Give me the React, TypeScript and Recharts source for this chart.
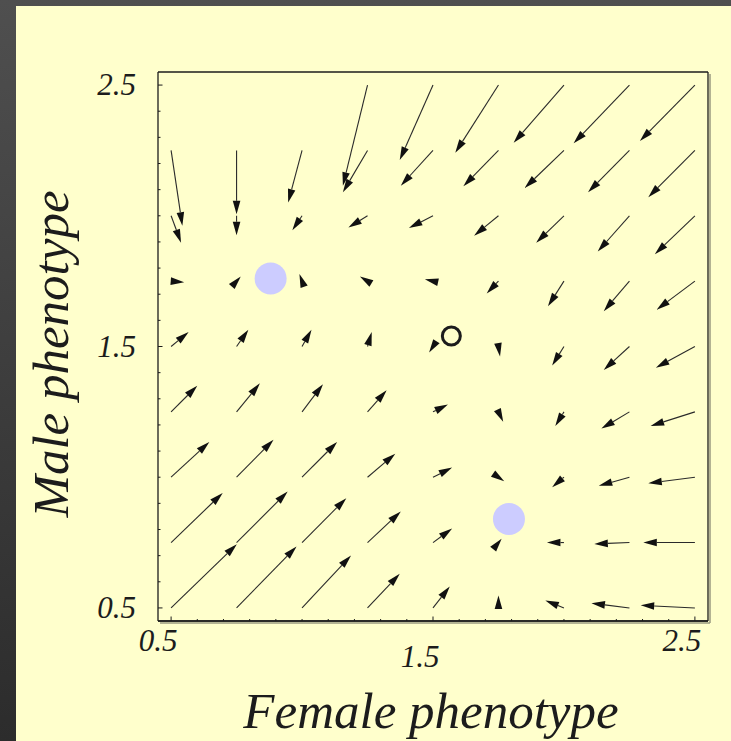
import React from 'react';
import { ScatterChart, Scatter, XAxis, YAxis, ReferenceLine } from 'recharts';

// grid of the vector field (arrow tails)
const gridX = [0.5, 0.75, 1, 1.25, 1.5, 1.75, 2, 2.25, 2.5];
const gridY = [2.5, 2.25, 2, 1.75, 1.5, 1.25, 1, 0.75, 0.5];

// female (x) component of each arrow, rows from top (2.5) to bottom (0.5); null = no arrow
const uRows: (number | null)[][] = [
  [null, null, null, -0.094, -0.127, -0.165, -0.192, -0.213, -0.21],
  [0.043, 0, -0.053, -0.094, -0.123, -0.134, -0.15, -0.158, -0.178],
  [0.038, 0, -0.037, -0.073, -0.092, -0.093, -0.106, -0.121, -0.153],
  [0.05, 0.016, -0.01, -0.029, -0.031, -0.045, -0.061, -0.098, -0.146],
  [0.067, 0.045, 0.036, 0.016, -0.015, 0.006, -0.045, -0.098, -0.149],
  [0.1, 0.089, 0.08, 0.073, 0.057, 0.018, -0.033, -0.107, -0.169],
  [0.146, 0.141, 0.134, 0.106, 0.073, 0.022, -0.045, -0.117, -0.178],
  [0.197, 0.195, 0.169, 0.127, 0.073, 0.012, -0.065, -0.134, -0.197],
  [0.251, 0.229, 0.187, 0.123, 0.064, 0, -0.071, -0.145, -0.207],
];

// male (y) component of each arrow, same layout
const vRows: (number | null)[][] = [
  [null, null, null, -0.385, -0.287, -0.259, -0.221, -0.223, -0.214],
  [-0.288, -0.244, -0.199, -0.16, -0.135, -0.137, -0.144, -0.16, -0.179],
  [-0.103, -0.074, -0.055, -0.045, -0.047, -0.076, -0.103, -0.137, -0.147],
  [-0.004, 0.018, 0.027, 0.018, 0.007, -0.047, -0.096, -0.115, -0.109],
  [0.055, 0.064, 0.064, 0.055, -0.023, -0.038, -0.073, -0.09, -0.081],
  [0.1, 0.109, 0.106, 0.083, 0.028, -0.038, -0.054, -0.064, -0.054],
  [0.135, 0.143, 0.135, 0.09, 0.037, -0.015, -0.038, -0.033, -0.023],
  [0.19, 0.195, 0.17, 0.119, 0.054, 0.015, 0, -0.005, 0],
  [0.244, 0.235, 0.201, 0.131, 0.082, 0.048, 0.028, 0.018, 0.01],
];

const stablePoints = [
  { x: 0.88, y: 1.76 },
  { x: 1.79, y: 0.84 },
];
const unstablePoints = [{ x: 1.57, y: 1.54 }];

const axisTicks = [
  0.5, 0.6, 0.7, 0.8, 0.9, 1.0, 1.1, 1.2, 1.3, 1.4, 1.5,
  1.6, 1.7, 1.8, 1.9, 2.0, 2.1, 2.2, 2.3, 2.4, 2.5,
];
const labelledTicks = [0.5, 1.5, 2.5];

const FONT = '"Liberation Serif", "Times New Roman", serif';
const INK = '#1c1c1c';
const HEAD_LEN = 13.5;
const HEAD_HALF = 3.8;

function Arrow(props: any) {
  const { x1, y1, x2, y2 } = props;
  const dx = x2 - x1;
  const dy = y2 - y1;
  const len = Math.hypot(dx, dy);
  if (!len) return null;
  const ux = dx / len;
  const uy = dy / len;
  const bx = x2 - ux * HEAD_LEN;
  const by = y2 - uy * HEAD_LEN;
  const px = -uy * HEAD_HALF;
  const py = ux * HEAD_HALF;
  return (
    <g>
      {len > HEAD_LEN && <line x1={x1} y1={y1} x2={bx} y2={by} stroke="#2a2a2a" strokeWidth={1.1} />}
      <polygon points={`${x2},${y2} ${bx + px},${by + py} ${bx - px},${by - py}`} fill="#111" />
    </g>
  );
}

function EdgeWithShadow(props: any) {
  const { x1, y1, x2, y2 } = props;
  return (
    <g>
      <line x1={x1 + 2} y1={y1 + 2} x2={x2 + 2} y2={y2 + 2} stroke="#9a9a80" strokeWidth={1.5} />
      <line x1={x1} y1={y1} x2={x2} y2={y2} stroke={INK} strokeWidth={1.3} />
    </g>
  );
}

function Edge(props: any) {
  const { x1, y1, x2, y2 } = props;
  return <line x1={x1} y1={y1} x2={x2} y2={y2} stroke={INK} strokeWidth={1.3} />;
}

function XTick({ x, y, payload }: any) {
  const v = payload.value;
  const major = labelledTicks.includes(v);
  return (
    <g>
      <line x1={x} y1={y} x2={x} y2={y - (major ? 4.5 : 2)} stroke={INK} />
      {major && (
        <text x={x - 13} y={y + (v === 1.5 ? 46 : 30)} textAnchor="middle" fontFamily={FONT} fontStyle="italic" fontSize={31} fill={INK}>
          {v.toFixed(1)}
        </text>
      )}
    </g>
  );
}

function YTick({ x, y, payload }: any) {
  const v = payload.value;
  const major = labelledTicks.includes(v);
  return (
    <g>
      <line x1={x} y1={y} x2={x + (major ? 4.5 : 2.5)} y2={y} stroke={INK} />
      {major && (
        <text x={x - 22} y={y + 10} textAnchor="end" fontFamily={FONT} fontStyle="italic" fontSize={31} fill={INK}>
          {v.toFixed(1)}
        </text>
      )}
    </g>
  );
}

export default function App() {
  const arrows: { x: number; y: number; u: number; v: number }[] = [];
  gridY.forEach((yv, r) => {
    gridX.forEach((xv, c) => {
      const u = uRows[r][c];
      const v = vRows[r][c];
      if (u === null || v === null) return;
      arrows.push({ x: xv, y: yv, u, v });
    });
  });

  return (
    <div style={{ position: 'absolute', left: 0, top: 0, width: 731, height: 741, background: 'linear-gradient(to bottom, #4f4f4f, #2c2c2c)', overflow: 'hidden' }}>
      <div style={{ position: 'absolute', left: 16, top: 6, right: 0, bottom: 0, background: '#FFFFCC' }} />
      <div style={{ position: 'absolute', left: 0, top: 0 }}>
        <ScatterChart width={731} height={741} margin={{ top: 72, right: 23, bottom: 0, left: 0 }}>
          <XAxis
            type="number"
            dataKey="x"
            domain={[0.45, 2.55]}
            allowDataOverflow
            ticks={axisTicks}
            interval={0}
            height={120}
            tickSize={0}
            tickMargin={0}
            axisLine={{ stroke: INK, strokeWidth: 1.3 }}
            tickLine={false}
            tick={<XTick />}
          />
          <YAxis
            type="number"
            dataKey="y"
            domain={[0.45, 2.55]}
            allowDataOverflow
            ticks={axisTicks}
            interval={0}
            width={158}
            tickSize={0}
            tickMargin={0}
            axisLine={{ stroke: INK, strokeWidth: 1.3 }}
            tickLine={false}
            tick={<YTick />}
          />
          <ReferenceLine y={2.55} ifOverflow="visible" shape={<Edge />} />
          <ReferenceLine x={2.55} ifOverflow="visible" shape={<EdgeWithShadow />} />
          <ReferenceLine y={0.45} ifOverflow="visible" shape={<EdgeWithShadow />} />
          {arrows.map((a, i) => (
            <ReferenceLine
              key={i}
              ifOverflow="visible"
              segment={[
                { x: a.x, y: a.y },
                { x: a.x + a.u, y: a.y + a.v },
              ]}
              shape={<Arrow />}
            />
          ))}
          <Scatter
            data={stablePoints}
            isAnimationActive={false}
            shape={(p: any) => <circle cx={p.cx} cy={p.cy} r={16} fill="#CCCCFF" />}
          />
          <Scatter
            data={unstablePoints}
            isAnimationActive={false}
            shape={(p: any) => <circle cx={p.cx} cy={p.cy} r={9} fill="none" stroke={INK} strokeWidth={3} />}
          />
        </ScatterChart>
      </div>
      <svg width={731} height={741} style={{ position: 'absolute', left: 0, top: 0, pointerEvents: 'none' }}>
        <text x={431} y={728} textAnchor="middle" fontFamily={FONT} fontStyle="italic" fontSize={51} fill={INK}>
          Female phenotype
        </text>
        <text x={68} y={354} transform="rotate(-90 68 354)" textAnchor="middle" fontFamily={FONT} fontStyle="italic" fontSize={51} fill={INK}>
          Male phenotype
        </text>
      </svg>
    </div>
  );
}
